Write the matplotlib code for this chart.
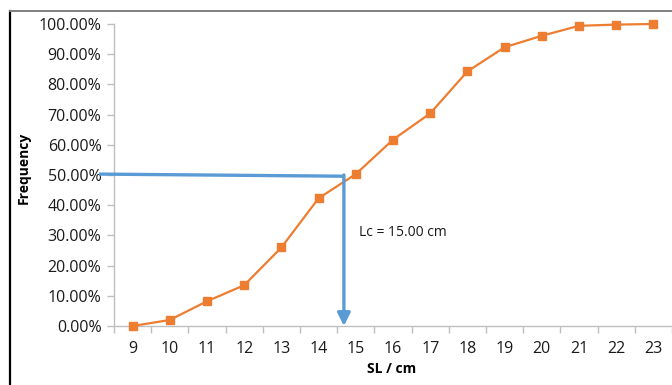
import matplotlib
matplotlib.use('Agg')
import matplotlib.pyplot as plt
from matplotlib.lines import Line2D
from matplotlib.ticker import FuncFormatter, FixedLocator

plt.rcParams['font.family'] = ['Open Sans', 'DejaVu Sans']

# cumulative frequency vs standard length
sl_cm = [9, 10, 11, 12, 13, 14, 15, 16, 17, 18, 19, 20, 21, 22, 23]
cum_freq = [0.0, 2.0, 8.2, 13.5, 26.0, 42.3, 50.3, 61.7, 70.4, 84.3, 92.3, 96.1, 99.4, 99.8, 100.0]

# Lc read-off guide (x in category units, y in %)
guide_x = [-0.9, 5.68]
guide_y = [50.3, 49.6]
lc_label = 'Lc = 15.00 cm'

orange = '#ED7D31'
blue = '#5B9BD5'
grey = '#BFBFBF'
text_col = '#1A1A1A'

fig = plt.figure(figsize=(6.72, 3.85), dpi=100)
ax = fig.add_axes([114 / 672, 59 / 385, 558 / 672, 302 / 385])

pos = list(range(len(sl_cm)))
ax.plot(pos, cum_freq, color=orange, lw=1.6, marker='s', ms=5.5, zorder=3, clip_on=False)

# guide lines
ax.plot([guide_x[0], guide_x[1]], guide_y, color=blue, lw=2.4, clip_on=False,
        solid_capstyle='butt', zorder=4)
ax.annotate('', xy=(guide_x[1], 0), xytext=(guide_x[1], guide_y[1] + 0.4),
            arrowprops=dict(arrowstyle='-|>', color=blue, lw=2.4,
                            mutation_scale=19, shrinkA=0, shrinkB=0),
            annotation_clip=False, zorder=4)
ax.text(6.08, 31.0, lc_label, fontsize=10, va='center', ha='left', color=text_col)

ax.set_xlim(-0.5, len(sl_cm) - 0.5)
ax.set_ylim(0, 100)

ax.set_xticks(pos)
ax.set_xticklabels([str(v) for v in sl_cm])
ax.xaxis.set_minor_locator(FixedLocator([p + 0.5 for p in range(-1, len(sl_cm))]))
ax.tick_params(axis='x', which='major', length=0, pad=11, labelsize=11.5, labelcolor=text_col)
ax.tick_params(axis='x', which='minor', length=5, color=grey, width=1)

ax.set_yticks(range(0, 101, 10))
ax.yaxis.set_major_formatter(FuncFormatter(lambda v, p: f'{v:.2f}%'))
ax.tick_params(axis='y', length=5, color=grey, width=1, pad=4, labelsize=11.5, labelcolor=text_col)

for s in ['top', 'right']:
    ax.spines[s].set_visible(False)
for s in ['left', 'bottom']:
    ax.spines[s].set_color(grey)
    ax.spines[s].set_linewidth(1)

fig.text(24 / 672, 1 - 168 / 385, 'Frequency', rotation=90, fontsize=10,
         fontweight='bold', ha='center', va='center')
fig.text(392 / 672, 1 - 369 / 385, 'SL / cm', fontsize=10, fontweight='bold',
         ha='center', va='center')

# outer chart frame
fig.add_artist(Line2D([9.5 / 672, 9.5 / 672], [0, 1 - 11 / 385], color='black', lw=1.6,
                      transform=fig.transFigure))
fig.add_artist(Line2D([9.5 / 672, 1], [1 - 11 / 385, 1 - 11 / 385], color='#7F7F7F', lw=1.4,
                      transform=fig.transFigure))

fig.savefig('out.png', dpi=100)
